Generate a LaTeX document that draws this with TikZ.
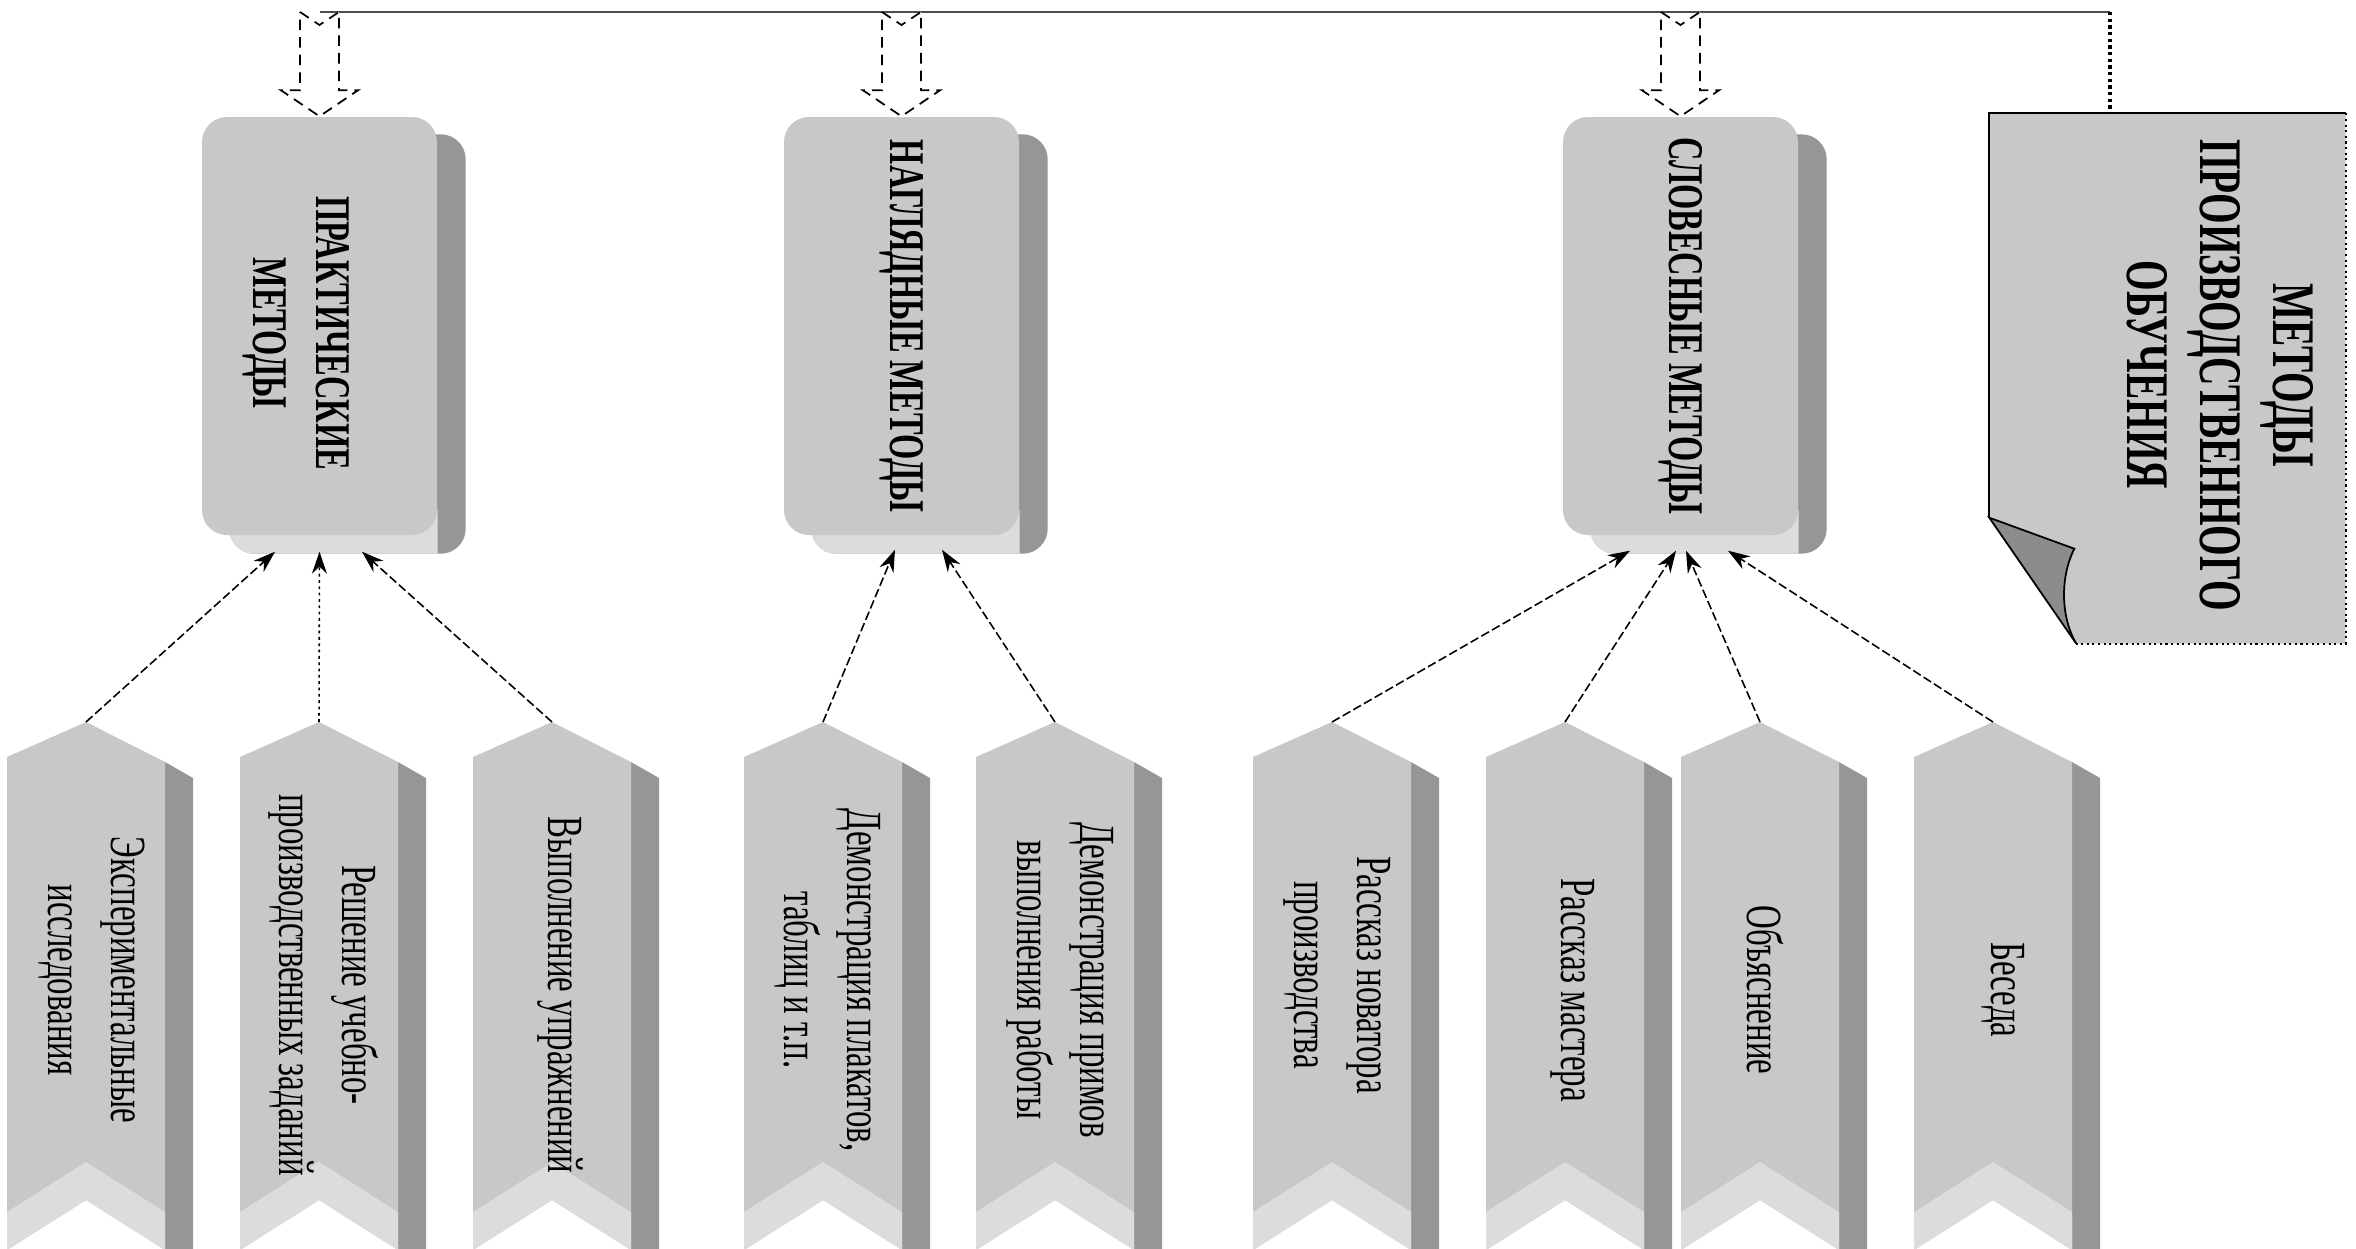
\documentclass[tikz,border=0pt]{standalone}
\usepackage{fontspec}
\setmainfont{Liberation Serif}
\newfontfamily\narrowserif[FakeStretch=0.65]{Liberation Serif}
\usetikzlibrary{arrows.meta, calc, backgrounds}

\definecolor{facegray}{RGB}{200,200,200}
\definecolor{sidegray}{RGB}{150,150,150}
\definecolor{basegray}{RGB}{220,220,220}
\definecolor{flapgray}{RGB}{140,140,140}

\tikzset{
  mainbox/.style={rectangle, rounded corners=2.5mm, fill=facegray,
    minimum width=23.5mm, minimum height=41.8mm, inner sep=0pt},
  headtext/.style={rotate=-90, align=center,
    font=\narrowserif\bfseries\fontsize{14.2}{18}\selectfont},
  titletext/.style={rotate=-90, align=center,
    font=\narrowserif\bfseries\fontsize{17.2}{20.7}\selectfont},
  leaftext/.style={rotate=-90, align=center,
    font=\narrowserif\fontsize{14.4}{18}\selectfont},
  feed/.style={draw, fill=white, line width=0.5pt, densely dashed},
  link/.style={-{Stealth[length=2.2mm,width=1.5mm]}, line width=0.45pt,
    dash pattern=on 2.5pt off 1pt},
  dotlink/.style={link, dash pattern=on 0.8pt off 1pt},
}

% hollow arrow from the bus down to a box
\newcommand{\feedarrow}[1]{%
  \draw[feed] ($(#1.north |- bus)+(-19.5,0)$) -- ($(#1.north |- bus)+(0,13)$)
    -- ($(#1.north |- bus)+(19.5,0)$) -- ($(#1.north)+(19.5,-26)$)
    -- ($(#1.north)+(38.5,-26)$) -- (#1.north) -- ($(#1.north)+(-38.5,-26)$)
    -- ($(#1.north)+(-19.5,-26)$) -- cycle;}

% depth of a box (side and bottom)
\newcommand{\boxdepth}[1]{%
  \begin{scope}[on background layer]
    \fill[sidegray, rounded corners=2.5mm] ($(#1.south west)+(28,18)$) rectangle ($(#1.north east)+(28,18)$);
    \begin{scope}
      \clip ($(#1.south west)+(0,-25)$) rectangle ($(#1.south east)+(0,40)$);
      \fill[basegray, rounded corners=2.5mm] ($(#1.south west)+(28,18)$) rectangle ($(#1.north east)+(28,18)$);
    \end{scope}
  \end{scope}}

\begin{document}
\begin{tikzpicture}[x=0.1mm, y=-0.1mm]
\useasboundingbox (0,0) rectangle (2356,1248);

% Method groups
\node[mainbox] (prak) at (319.5,326) {};
\node[mainbox] (nagl) at (901.5,326) {};
\node[mainbox] (slov) at (1680.5,326) {};
\boxdepth{prak}
\boxdepth{nagl}
\boxdepth{slov}
\node[headtext] (praklab) at (296,333) {ПРАКТИЧЕСКИЕ\\МЕТОДЫ};
\node[headtext] (nagllab) at (nagl) {НАГЛЯДНЫЕ МЕТОДЫ};
\node[headtext] (slovlab) at (slov) {СЛОВЕСНЫЕ МЕТОДЫ};

% Title sheet
\node[minimum width=35.5mm, minimum height=52.9mm, inner sep=0pt] (doc) at (2167.5,378.5) {};
\fill[facegray] (doc.north west) -- (doc.north east) -- (doc.south east)
  -- ($(doc.south west)+(87,0)$) -- ($(doc.south west)+(0,-126)$) -- cycle;
\draw[line width=0.5pt] ($(doc.south west)+(0,-126)$) -- (doc.north west) -- (doc.north east);
\draw[line width=0.6pt, densely dotted] (doc.north east) -- (doc.south east) -- ($(doc.south west)+(87,0)$);
\filldraw[fill=flapgray, line width=0.5pt] ($(doc.south west)+(0,-126)$) -- ($(doc.south west)+(85,-95)$)
  .. controls ($(doc.south west)+(70,-65)$) and ($(doc.south west)+(72,-25)$) .. ($(doc.south west)+(87,0)$) -- cycle;
\node[titletext] (doclab) at (2220,375) {МЕТОДЫ\\ПРОИЗВОДСТВЕННОГО\\ОБУЧЕНИЯ};

% Bus
\coordinate (bus) at (2110,12);
\draw[line width=0.5pt, black!70] (prak.north |- bus) -- (bus);
\draw[line width=0.9pt, densely dotted] (bus) -- (bus |- doc.north);
\feedarrow{prak}
\feedarrow{nagl}
\feedarrow{slov}

% Single methods
\foreach \cx/\nm in {86/expt, 319/task, 552/drill, 823/poster, 1055/demo,
    1332/novator, 1565/master, 1760/explain, 1993/talk} {
  \fill[sidegray] ({\cx+79},762) -- ({\cx+107},778) -- ({\cx+107},1262) -- ({\cx+79},1250) -- cycle;
  \fill[facegray] ({\cx-79},757) -- (\cx,722) -- ({\cx+79},762) -- ({\cx+79},1250)
    -- (\cx,1200) -- ({\cx-79},1250) -- cycle;
  \fill[basegray] ({\cx-79},1212) -- (\cx,1162) -- ({\cx+79},1212) -- ({\cx+79},1250)
    -- (\cx,1200) -- ({\cx-79},1250) -- cycle;
  \coordinate (\nm) at (\cx,722);
}
\node[leaftext] (exptlab) at (92,980) {Экспериментальные\\исследования};
\node[leaftext] (tasklab) at (324,985) {Решение учебно-\\производственных заданий};
\node[leaftext] (drilllab) at (560,995) {Выполнение упражнений};
\node[leaftext] (posterlab) at (828,980) {Демонстрация плакатов,\\таблиц и т.п.};
\node[leaftext] (demolab) at (1060,980) {Демонстрация примов\\выполнения работы};
\node[leaftext] (novatorlab) at (1337,975) {Рассказ новатора\\производства};
\node[leaftext] (masterlab) at (1573,990) {Рассказ мастера};
\node[leaftext] (explainlab) at (1765,990) {Объяснение};
\node[leaftext] (talklab) at (2003,990) {Беседа};

\draw[link] (expt) -- ([xshift=-4.45mm,yshift=-1.6mm]prak.south);
\draw[dotlink] (task) -- ([yshift=-1.6mm]prak.south);
\draw[link] (drill) -- ([xshift=4.25mm,yshift=-1.6mm]prak.south);
\draw[link] (poster) -- ([xshift=-0.65mm,yshift=-1.4mm]nagl.south);
\draw[link] (demo) -- ([xshift=4.05mm,yshift=-1.4mm]nagl.south);
\draw[link] (novator) -- ([xshift=-5.05mm,yshift=-1.5mm]slov.south);
\draw[link] (master) -- ([xshift=-0.45mm,yshift=-1.5mm]slov.south);
\draw[link] (explain) -- ([xshift=0.55mm,yshift=-1.5mm]slov.south);
\draw[link] (talk) -- ([xshift=4.75mm,yshift=-1.5mm]slov.south);
\end{tikzpicture}
\end{document}
